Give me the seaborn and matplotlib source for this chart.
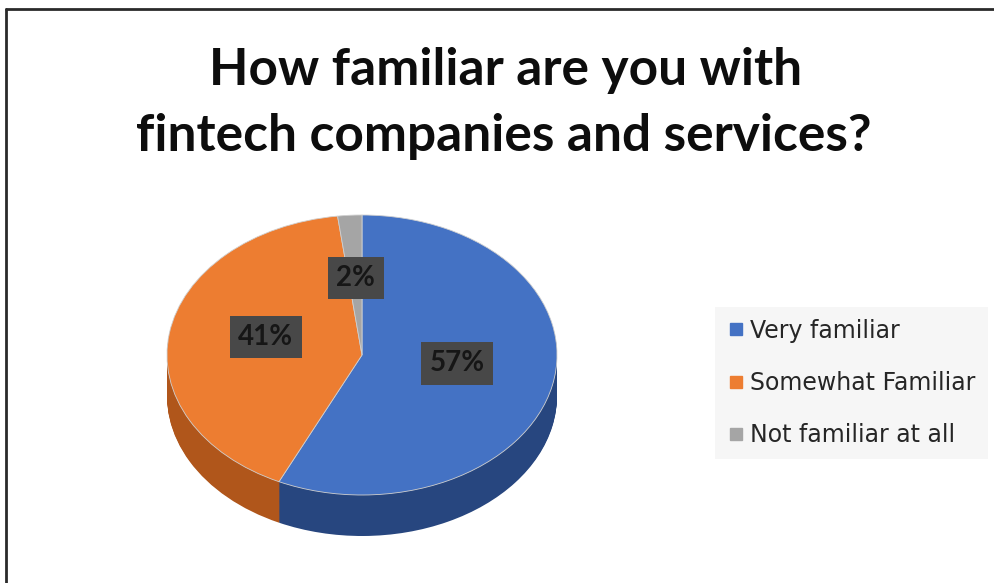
import numpy as np
import matplotlib
matplotlib.use("Agg")
import matplotlib.pyplot as plt
from matplotlib.lines import Line2D
import seaborn as sns

# Survey responses
categories = ["Very familiar", "Somewhat Familiar", "Not familiar at all"]
shares = [57, 41, 2]
title_lines = ["How familiar are you with", "fintech companies and services?"]

top_colors = ["#4472C4", "#ED7D31", "#A5A5A5"]
side_colors = ["#27467F", "#B0561B", "#6E6E6E"]

sns.set_theme(style="white")
plt.rcParams["font.family"] = ["Lato", "DejaVu Sans"]

W, H, DPI = 995, 583, 100
fig = plt.figure(figsize=(W / DPI, H / DPI), dpi=DPI)
fig.patch.set_facecolor("white")

# Pie axes: unit circle squashed into an ellipse (195 px wide radius, 140 px tall)
rx, ry = 195.0, 140.0
cx, cy = 362.0, 228.0           # centre in pixels from the bottom-left
L, B, T = 1.2, 1.6, 1.2
ax = fig.add_axes([(cx - L * rx) / W, (cy - B * ry) / H,
                   2 * L * rx / W, (B + T) * ry / H])

depth = 41.0 / ry
# extruded side: stacked copies of the pie shifted downward
for off in np.linspace(depth, 0.0, 45, endpoint=False):
    ax.pie(shares, colors=side_colors, startangle=90, counterclock=False,
           center=(0, -off), radius=1.0,
           wedgeprops=dict(linewidth=0, antialiased=True))

wedges, texts, autotexts = ax.pie(
    shares, colors=top_colors, startangle=90, counterclock=False,
    center=(0, 0), radius=1.0, autopct="%1.0f%%", pctdistance=0.5,
    wedgeprops=dict(linewidth=0.6, edgecolor="#d0d0d0"),
    textprops=dict(fontsize=20, fontweight="bold", color="#161616"))
for t in autotexts:
    x, y = t.get_position()
    t.set_position((x, y + 0.05))   # tilted top face: labels sit slightly higher
    t.set_bbox(dict(boxstyle="square,pad=0.3", fc="#484848", ec="none"))

ax.set_aspect("auto")
ax.set_xlim(-L, L)
ax.set_ylim(-B, T)
ax.axis("off")

# Title
fig.text(0.508, (H - 85) / H, title_lines[0], ha="center", va="baseline",
         fontsize=37, fontweight="bold", color="#0d0d0d")
fig.text(0.506, (H - 151) / H, title_lines[1], ha="center", va="baseline",
         fontsize=37, fontweight="bold", color="#0d0d0d")

# Legend
handles = [Line2D([0], [0], marker="s", linestyle="none", markersize=8.5,
                  markerfacecolor=c, markeredgecolor=c) for c in top_colors]
leg = fig.legend(handles, categories, loc="center left",
                 bbox_to_anchor=(715 / W, (H - 383) / H),
                 frameon=True, fancybox=False, handletextpad=0.2,
                 handlelength=0.8, labelspacing=1.2, borderpad=0.5,
                 borderaxespad=0.0,
                 prop=dict(family="DejaVu Sans", size=17))
leg.get_frame().set_facecolor("#f4f4f4")
leg.get_frame().set_edgecolor("none")
for t in leg.get_texts():
    t.set_color("#262626")

# Outer frame lines (top and left)
fig.add_artist(Line2D([6 / W, 1.0], [(H - 9) / H, (H - 9) / H],
                      color="#2a2a2a", linewidth=2.0,
                      transform=fig.transFigure))
fig.add_artist(Line2D([6 / W, 6 / W], [0.0, (H - 9) / H],
                      color="#2a2a2a", linewidth=2.0,
                      transform=fig.transFigure))

fig.savefig("out.png", dpi=DPI)
